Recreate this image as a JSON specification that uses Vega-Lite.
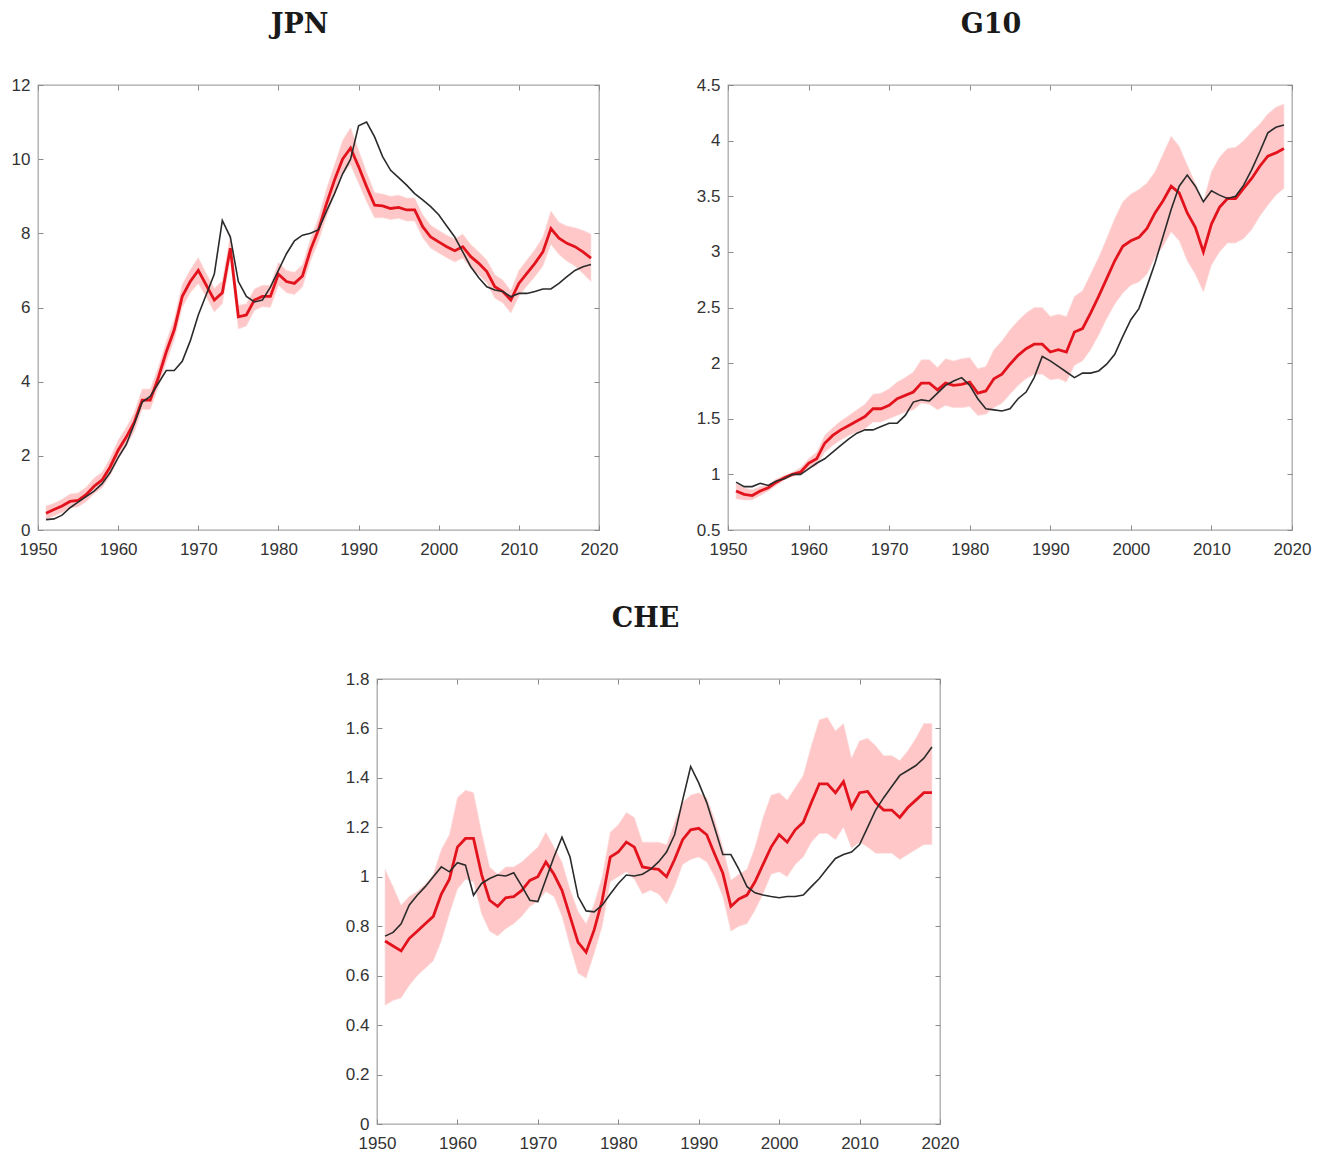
{
  "$schema": "https://vega.github.io/schema/vega-lite/v6.json",
  "background": "white",
  "padding": {"left": 10, "top": 10, "right": 0, "bottom": 0},
  "datasets": {
    "jpn": [
      {"year":1951,"est":0.45,"lo":0.28,"hi":0.65,"act":0.28},
      {"year":1952,"est":0.55,"lo":0.38,"hi":0.72,"act":0.30},
      {"year":1953,"est":0.65,"lo":0.47,"hi":0.83,"act":0.40},
      {"year":1954,"est":0.77,"lo":0.59,"hi":0.97,"act":0.60},
      {"year":1955,"est":0.80,"lo":0.62,"hi":1.00,"act":0.75},
      {"year":1956,"est":0.95,"lo":0.76,"hi":1.15,"act":0.90},
      {"year":1957,"est":1.18,"lo":0.98,"hi":1.40,"act":1.05},
      {"year":1958,"est":1.35,"lo":1.14,"hi":1.56,"act":1.25},
      {"year":1959,"est":1.70,"lo":1.46,"hi":1.94,"act":1.55},
      {"year":1960,"est":2.15,"lo":1.90,"hi":2.42,"act":1.95},
      {"year":1961,"est":2.50,"lo":2.25,"hi":2.76,"act":2.30},
      {"year":1962,"est":2.90,"lo":2.64,"hi":3.16,"act":2.85},
      {"year":1963,"est":3.50,"lo":3.25,"hi":3.80,"act":3.45},
      {"year":1964,"est":3.50,"lo":3.25,"hi":3.80,"act":3.60},
      {"year":1965,"est":4.10,"lo":3.84,"hi":4.38,"act":3.95},
      {"year":1966,"est":4.80,"lo":4.52,"hi":5.08,"act":4.30},
      {"year":1967,"est":5.40,"lo":5.12,"hi":5.70,"act":4.30},
      {"year":1968,"est":6.30,"lo":6.00,"hi":6.62,"act":4.55},
      {"year":1969,"est":6.70,"lo":6.40,"hi":7.02,"act":5.10},
      {"year":1970,"est":7.00,"lo":6.65,"hi":7.35,"act":5.80},
      {"year":1971,"est":6.60,"lo":6.28,"hi":6.92,"act":6.35},
      {"year":1972,"est":6.20,"lo":5.88,"hi":6.52,"act":6.90},
      {"year":1973,"est":6.40,"lo":6.10,"hi":6.72,"act":8.35},
      {"year":1974,"est":7.60,"lo":7.30,"hi":7.95,"act":7.90},
      {"year":1975,"est":5.75,"lo":5.42,"hi":6.06,"act":6.70},
      {"year":1976,"est":5.80,"lo":5.50,"hi":6.10,"act":6.30},
      {"year":1977,"est":6.20,"lo":5.92,"hi":6.50,"act":6.15},
      {"year":1978,"est":6.30,"lo":6.02,"hi":6.60,"act":6.20},
      {"year":1979,"est":6.30,"lo":6.00,"hi":6.60,"act":6.55},
      {"year":1980,"est":6.90,"lo":6.60,"hi":7.22,"act":7.00},
      {"year":1981,"est":6.70,"lo":6.40,"hi":7.00,"act":7.45},
      {"year":1982,"est":6.65,"lo":6.35,"hi":6.95,"act":7.80},
      {"year":1983,"est":6.85,"lo":6.55,"hi":7.15,"act":7.95},
      {"year":1984,"est":7.55,"lo":7.25,"hi":7.85,"act":8.00},
      {"year":1985,"est":8.10,"lo":7.78,"hi":8.42,"act":8.10},
      {"year":1986,"est":8.80,"lo":8.45,"hi":9.20,"act":8.60},
      {"year":1987,"est":9.44,"lo":9.05,"hi":9.85,"act":9.07},
      {"year":1988,"est":10.00,"lo":9.60,"hi":10.50,"act":9.60},
      {"year":1989,"est":10.30,"lo":9.85,"hi":10.85,"act":10.00},
      {"year":1990,"est":9.80,"lo":9.35,"hi":10.25,"act":10.90},
      {"year":1991,"est":9.26,"lo":8.85,"hi":9.65,"act":11.00},
      {"year":1992,"est":8.76,"lo":8.42,"hi":9.10,"act":10.60},
      {"year":1993,"est":8.74,"lo":8.42,"hi":9.06,"act":10.07},
      {"year":1994,"est":8.67,"lo":8.37,"hi":9.00,"act":9.70},
      {"year":1995,"est":8.70,"lo":8.40,"hi":9.03,"act":9.50},
      {"year":1996,"est":8.63,"lo":8.33,"hi":8.95,"act":9.30},
      {"year":1997,"est":8.63,"lo":8.33,"hi":8.95,"act":9.07},
      {"year":1998,"est":8.18,"lo":7.88,"hi":8.50,"act":8.90},
      {"year":1999,"est":7.90,"lo":7.60,"hi":8.22,"act":8.72},
      {"year":2000,"est":7.77,"lo":7.47,"hi":8.08,"act":8.50},
      {"year":2001,"est":7.64,"lo":7.34,"hi":7.95,"act":8.20},
      {"year":2002,"est":7.53,"lo":7.23,"hi":7.85,"act":7.90},
      {"year":2003,"est":7.64,"lo":7.33,"hi":7.98,"act":7.50},
      {"year":2004,"est":7.37,"lo":7.06,"hi":7.70,"act":7.10},
      {"year":2005,"est":7.19,"lo":6.88,"hi":7.50,"act":6.80},
      {"year":2006,"est":6.97,"lo":6.66,"hi":7.28,"act":6.56},
      {"year":2007,"est":6.56,"lo":6.25,"hi":6.88,"act":6.47},
      {"year":2008,"est":6.43,"lo":6.12,"hi":6.74,"act":6.43},
      {"year":2009,"est":6.20,"lo":5.85,"hi":6.45,"act":6.29},
      {"year":2010,"est":6.65,"lo":6.30,"hi":7.00,"act":6.38},
      {"year":2011,"est":6.92,"lo":6.58,"hi":7.28,"act":6.38},
      {"year":2012,"est":7.19,"lo":6.83,"hi":7.56,"act":6.43},
      {"year":2013,"est":7.50,"lo":7.12,"hi":7.90,"act":6.50},
      {"year":2014,"est":8.13,"lo":7.70,"hi":8.60,"act":6.50},
      {"year":2015,"est":7.87,"lo":7.43,"hi":8.30,"act":6.65},
      {"year":2016,"est":7.73,"lo":7.25,"hi":8.20,"act":6.83},
      {"year":2017,"est":7.64,"lo":7.12,"hi":8.15,"act":7.00},
      {"year":2018,"est":7.50,"lo":6.92,"hi":8.08,"act":7.10},
      {"year":2019,"est":7.33,"lo":6.70,"hi":7.98,"act":7.16}
    ],
    "g10": [
      {"year":1951,"est":0.85,"lo":0.78,"hi":0.92,"act":0.93},
      {"year":1952,"est":0.82,"lo":0.77,"hi":0.88,"act":0.89},
      {"year":1953,"est":0.81,"lo":0.77,"hi":0.86,"act":0.89},
      {"year":1954,"est":0.85,"lo":0.81,"hi":0.89,"act":0.92},
      {"year":1955,"est":0.88,"lo":0.85,"hi":0.91,"act":0.90},
      {"year":1956,"est":0.93,"lo":0.90,"hi":0.96,"act":0.94},
      {"year":1957,"est":0.97,"lo":0.95,"hi":0.99,"act":0.96},
      {"year":1958,"est":1.00,"lo":0.98,"hi":1.02,"act":1.00},
      {"year":1959,"est":1.02,"lo":1.00,"hi":1.06,"act":1.00},
      {"year":1960,"est":1.10,"lo":1.05,"hi":1.14,"act":1.05},
      {"year":1961,"est":1.14,"lo":1.08,"hi":1.20,"act":1.10},
      {"year":1962,"est":1.28,"lo":1.20,"hi":1.35,"act":1.14},
      {"year":1963,"est":1.35,"lo":1.26,"hi":1.42,"act":1.20},
      {"year":1964,"est":1.40,"lo":1.31,"hi":1.48,"act":1.26},
      {"year":1965,"est":1.44,"lo":1.35,"hi":1.53,"act":1.32},
      {"year":1966,"est":1.48,"lo":1.38,"hi":1.58,"act":1.37},
      {"year":1967,"est":1.52,"lo":1.41,"hi":1.63,"act":1.40},
      {"year":1968,"est":1.59,"lo":1.47,"hi":1.72,"act":1.40},
      {"year":1969,"est":1.59,"lo":1.47,"hi":1.73,"act":1.43},
      {"year":1970,"est":1.62,"lo":1.50,"hi":1.77,"act":1.46},
      {"year":1971,"est":1.68,"lo":1.53,"hi":1.83,"act":1.46},
      {"year":1972,"est":1.71,"lo":1.56,"hi":1.87,"act":1.53},
      {"year":1973,"est":1.74,"lo":1.58,"hi":1.92,"act":1.65},
      {"year":1974,"est":1.82,"lo":1.64,"hi":2.03,"act":1.67},
      {"year":1975,"est":1.82,"lo":1.63,"hi":2.03,"act":1.66},
      {"year":1976,"est":1.76,"lo":1.58,"hi":1.96,"act":1.73},
      {"year":1977,"est":1.82,"lo":1.62,"hi":2.04,"act":1.80},
      {"year":1978,"est":1.80,"lo":1.60,"hi":2.02,"act":1.84},
      {"year":1979,"est":1.81,"lo":1.60,"hi":2.04,"act":1.87},
      {"year":1980,"est":1.83,"lo":1.61,"hi":2.05,"act":1.80},
      {"year":1981,"est":1.73,"lo":1.53,"hi":1.95,"act":1.68},
      {"year":1982,"est":1.75,"lo":1.54,"hi":1.97,"act":1.59},
      {"year":1983,"est":1.86,"lo":1.60,"hi":2.12,"act":1.58},
      {"year":1984,"est":1.90,"lo":1.64,"hi":2.20,"act":1.57},
      {"year":1985,"est":1.99,"lo":1.72,"hi":2.30,"act":1.59},
      {"year":1986,"est":2.07,"lo":1.80,"hi":2.38,"act":1.68},
      {"year":1987,"est":2.13,"lo":1.86,"hi":2.45,"act":1.74},
      {"year":1988,"est":2.17,"lo":1.90,"hi":2.50,"act":1.87},
      {"year":1989,"est":2.17,"lo":1.90,"hi":2.50,"act":2.06},
      {"year":1990,"est":2.10,"lo":1.85,"hi":2.42,"act":2.02},
      {"year":1991,"est":2.12,"lo":1.86,"hi":2.44,"act":1.97},
      {"year":1992,"est":2.10,"lo":1.83,"hi":2.42,"act":1.92},
      {"year":1993,"est":2.28,"lo":1.98,"hi":2.60,"act":1.87},
      {"year":1994,"est":2.31,"lo":2.02,"hi":2.65,"act":1.91},
      {"year":1995,"est":2.45,"lo":2.12,"hi":2.80,"act":1.91},
      {"year":1996,"est":2.60,"lo":2.25,"hi":2.95,"act":1.93},
      {"year":1997,"est":2.76,"lo":2.40,"hi":3.12,"act":1.99},
      {"year":1998,"est":2.92,"lo":2.53,"hi":3.30,"act":2.08},
      {"year":1999,"est":3.05,"lo":2.63,"hi":3.45,"act":2.24},
      {"year":2000,"est":3.10,"lo":2.70,"hi":3.52,"act":2.39},
      {"year":2001,"est":3.13,"lo":2.73,"hi":3.56,"act":2.49},
      {"year":2002,"est":3.21,"lo":2.80,"hi":3.62,"act":2.69},
      {"year":2003,"est":3.35,"lo":2.95,"hi":3.72,"act":2.90},
      {"year":2004,"est":3.46,"lo":3.05,"hi":3.88,"act":3.14},
      {"year":2005,"est":3.59,"lo":3.18,"hi":4.04,"act":3.38},
      {"year":2006,"est":3.53,"lo":3.10,"hi":3.95,"act":3.59},
      {"year":2007,"est":3.35,"lo":2.92,"hi":3.78,"act":3.69},
      {"year":2008,"est":3.22,"lo":2.80,"hi":3.62,"act":3.59},
      {"year":2009,"est":3.00,"lo":2.64,"hi":3.45,"act":3.45},
      {"year":2010,"est":3.25,"lo":2.88,"hi":3.72,"act":3.55},
      {"year":2011,"est":3.40,"lo":3.00,"hi":3.85,"act":3.51},
      {"year":2012,"est":3.48,"lo":3.08,"hi":3.93,"act":3.48},
      {"year":2013,"est":3.48,"lo":3.08,"hi":3.94,"act":3.50},
      {"year":2014,"est":3.57,"lo":3.12,"hi":4.00,"act":3.60},
      {"year":2015,"est":3.66,"lo":3.20,"hi":4.08,"act":3.74},
      {"year":2016,"est":3.77,"lo":3.32,"hi":4.15,"act":3.90},
      {"year":2017,"est":3.86,"lo":3.42,"hi":4.24,"act":4.07},
      {"year":2018,"est":3.89,"lo":3.51,"hi":4.30,"act":4.12},
      {"year":2019,"est":3.93,"lo":3.57,"hi":4.33,"act":4.14}
    ],
    "che": [
      {"year":1951,"est":0.74,"lo":0.48,"hi":1.03,"act":0.76},
      {"year":1952,"est":0.72,"lo":0.50,"hi":0.96,"act":0.775},
      {"year":1953,"est":0.70,"lo":0.51,"hi":0.885,"act":0.81},
      {"year":1954,"est":0.75,"lo":0.56,"hi":0.92,"act":0.885},
      {"year":1955,"est":0.78,"lo":0.60,"hi":0.94,"act":0.925},
      {"year":1956,"est":0.81,"lo":0.63,"hi":0.97,"act":0.96},
      {"year":1957,"est":0.84,"lo":0.66,"hi":1.01,"act":1.00},
      {"year":1958,"est":0.93,"lo":0.74,"hi":1.11,"act":1.04},
      {"year":1959,"est":0.99,"lo":0.85,"hi":1.17,"act":1.02},
      {"year":1960,"est":1.12,"lo":0.95,"hi":1.32,"act":1.057},
      {"year":1961,"est":1.155,"lo":0.99,"hi":1.35,"act":1.047},
      {"year":1962,"est":1.155,"lo":0.98,"hi":1.34,"act":0.925},
      {"year":1963,"est":1.01,"lo":0.85,"hi":1.18,"act":0.973},
      {"year":1964,"est":0.905,"lo":0.78,"hi":1.04,"act":0.993},
      {"year":1965,"est":0.88,"lo":0.76,"hi":1.01,"act":1.007},
      {"year":1966,"est":0.915,"lo":0.79,"hi":1.04,"act":1.003},
      {"year":1967,"est":0.92,"lo":0.81,"hi":1.04,"act":1.016},
      {"year":1968,"est":0.945,"lo":0.84,"hi":1.06,"act":0.962},
      {"year":1969,"est":0.985,"lo":0.88,"hi":1.09,"act":0.905},
      {"year":1970,"est":1.00,"lo":0.90,"hi":1.12,"act":0.90},
      {"year":1971,"est":1.06,"lo":0.94,"hi":1.18,"act":0.99},
      {"year":1972,"est":1.01,"lo":0.92,"hi":1.12,"act":1.08},
      {"year":1973,"est":0.945,"lo":0.84,"hi":1.06,"act":1.16},
      {"year":1974,"est":0.84,"lo":0.72,"hi":0.95,"act":1.08},
      {"year":1975,"est":0.735,"lo":0.61,"hi":0.86,"act":0.92},
      {"year":1976,"est":0.695,"lo":0.59,"hi":0.81,"act":0.862},
      {"year":1977,"est":0.785,"lo":0.69,"hi":0.89,"act":0.858},
      {"year":1978,"est":0.905,"lo":0.80,"hi":1.00,"act":0.885},
      {"year":1979,"est":1.08,"lo":0.98,"hi":1.18,"act":0.93},
      {"year":1980,"est":1.10,"lo":1.00,"hi":1.21,"act":0.973},
      {"year":1981,"est":1.14,"lo":1.02,"hi":1.26,"act":1.007},
      {"year":1982,"est":1.12,"lo":0.99,"hi":1.24,"act":1.003},
      {"year":1983,"est":1.04,"lo":0.93,"hi":1.14,"act":1.01},
      {"year":1984,"est":1.034,"lo":0.946,"hi":1.14,"act":1.03},
      {"year":1985,"est":1.03,"lo":0.93,"hi":1.14,"act":1.06},
      {"year":1986,"est":1.00,"lo":0.89,"hi":1.13,"act":1.10},
      {"year":1987,"est":1.07,"lo":0.96,"hi":1.22,"act":1.17},
      {"year":1988,"est":1.15,"lo":1.05,"hi":1.30,"act":1.31},
      {"year":1989,"est":1.19,"lo":1.07,"hi":1.33,"act":1.446},
      {"year":1990,"est":1.196,"lo":1.08,"hi":1.34,"act":1.38},
      {"year":1991,"est":1.17,"lo":1.06,"hi":1.32,"act":1.30},
      {"year":1992,"est":1.09,"lo":1.00,"hi":1.23,"act":1.196},
      {"year":1993,"est":1.014,"lo":0.92,"hi":1.12,"act":1.09},
      {"year":1994,"est":0.88,"lo":0.78,"hi":0.986,"act":1.09},
      {"year":1995,"est":0.91,"lo":0.80,"hi":1.01,"act":1.03},
      {"year":1996,"est":0.926,"lo":0.81,"hi":1.03,"act":0.96},
      {"year":1997,"est":0.98,"lo":0.865,"hi":1.12,"act":0.935},
      {"year":1998,"est":1.05,"lo":0.93,"hi":1.24,"act":0.926},
      {"year":1999,"est":1.12,"lo":1.01,"hi":1.33,"act":0.92},
      {"year":2000,"est":1.17,"lo":1.02,"hi":1.34,"act":0.915},
      {"year":2001,"est":1.14,"lo":1.00,"hi":1.31,"act":0.92},
      {"year":2002,"est":1.19,"lo":1.05,"hi":1.36,"act":0.92},
      {"year":2003,"est":1.22,"lo":1.08,"hi":1.41,"act":0.926},
      {"year":2004,"est":1.30,"lo":1.14,"hi":1.53,"act":0.96},
      {"year":2005,"est":1.376,"lo":1.175,"hi":1.635,"act":0.993},
      {"year":2006,"est":1.376,"lo":1.175,"hi":1.645,"act":1.034},
      {"year":2007,"est":1.34,"lo":1.15,"hi":1.59,"act":1.074},
      {"year":2008,"est":1.385,"lo":1.20,"hi":1.62,"act":1.09},
      {"year":2009,"est":1.28,"lo":1.115,"hi":1.48,"act":1.10},
      {"year":2010,"est":1.34,"lo":1.14,"hi":1.55,"act":1.13},
      {"year":2011,"est":1.345,"lo":1.12,"hi":1.56,"act":1.20},
      {"year":2012,"est":1.30,"lo":1.095,"hi":1.53,"act":1.27},
      {"year":2013,"est":1.27,"lo":1.095,"hi":1.49,"act":1.32},
      {"year":2014,"est":1.27,"lo":1.095,"hi":1.49,"act":1.365},
      {"year":2015,"est":1.24,"lo":1.07,"hi":1.47,"act":1.41},
      {"year":2016,"est":1.28,"lo":1.09,"hi":1.51,"act":1.43},
      {"year":2017,"est":1.31,"lo":1.11,"hi":1.56,"act":1.45},
      {"year":2018,"est":1.34,"lo":1.13,"hi":1.62,"act":1.48},
      {"year":2019,"est":1.34,"lo":1.13,"hi":1.62,"act":1.525}
    ]
  },
  "vconcat": [
    {
      "hconcat": [
        {
          "title": {"text": "JPN", "dx": -19},
          "width": 561,
          "height": 445,
          "data": {"name": "jpn"},
          "layer": [
            {
              "mark": {"type": "area", "color": "#ff1a1a", "opacity": 0.24, "stroke": "#ee7f7f", "strokeWidth": 0.9, "strokeOpacity": 0.7},
              "encoding": {
                "x": {"field": "year", "type": "quantitative", "scale": {"domain": [1950, 2020], "nice": false, "zero": false}, "axis": {"orient": "bottom", "values": [1950, 1960, 1970, 1980, 1990, 2000, 2010, 2020], "format": "d", "title": null}},
                "y": {"field": "lo", "type": "quantitative", "scale": {"domain": [0, 12], "nice": false, "zero": false}, "axis": {"orient": "left", "values": [0, 2, 4, 6, 8, 10, 12], "format": "~g", "title": null}},
                "y2": {"field": "hi"}
              }
            },
            {
              "mark": {"type": "line", "color": "#e3131d", "strokeWidth": 2.8},
              "encoding": {
                "x": {"field": "year", "type": "quantitative", "axis": {"orient": "top", "labels": false, "values": [1950, 1960, 1970, 1980, 1990, 2000, 2010, 2020], "title": null}},
                "y": {"field": "est", "type": "quantitative", "axis": {"orient": "right", "labels": false, "values": [0, 2, 4, 6, 8, 10, 12], "title": null}}
              }
            },
            {
              "mark": {"type": "line", "color": "#2b2b2b", "strokeWidth": 1.6},
              "encoding": {
                "x": {"field": "year", "type": "quantitative", "axis": null},
                "y": {"field": "act", "type": "quantitative", "axis": null}
              }
            }
          ],
          "resolve": {"axis": {"x": "independent", "y": "independent"}}
        },
        {
          "title": {"text": "G10", "dx": -19},
          "width": 564,
          "height": 445,
          "data": {"name": "g10"},
          "layer": [
            {
              "mark": {"type": "area", "color": "#ff1a1a", "opacity": 0.24, "stroke": "#ee7f7f", "strokeWidth": 0.9, "strokeOpacity": 0.7},
              "encoding": {
                "x": {"field": "year", "type": "quantitative", "scale": {"domain": [1950, 2020], "nice": false, "zero": false}, "axis": {"orient": "bottom", "values": [1950, 1960, 1970, 1980, 1990, 2000, 2010, 2020], "format": "d", "title": null}},
                "y": {"field": "lo", "type": "quantitative", "scale": {"domain": [0.5, 4.5], "nice": false, "zero": false}, "axis": {"orient": "left", "values": [0.5, 1, 1.5, 2, 2.5, 3, 3.5, 4, 4.5], "format": "~g", "title": null}},
                "y2": {"field": "hi"}
              }
            },
            {
              "mark": {"type": "line", "color": "#e3131d", "strokeWidth": 2.8},
              "encoding": {
                "x": {"field": "year", "type": "quantitative", "axis": {"orient": "top", "labels": false, "values": [1950, 1960, 1970, 1980, 1990, 2000, 2010, 2020], "title": null}},
                "y": {"field": "est", "type": "quantitative", "axis": {"orient": "right", "labels": false, "values": [0.5, 1, 1.5, 2, 2.5, 3, 3.5, 4, 4.5], "title": null}}
              }
            },
            {
              "mark": {"type": "line", "color": "#2b2b2b", "strokeWidth": 1.6},
              "encoding": {
                "x": {"field": "year", "type": "quantitative", "axis": null},
                "y": {"field": "act", "type": "quantitative", "axis": null}
              }
            }
          ],
          "resolve": {"axis": {"x": "independent", "y": "independent"}}
        }
      ],
      "spacing": 76
    },
    {
      "hconcat": [
        {
          "width": 271,
          "height": 445,
          "view": {"stroke": null},
          "data": {"values": [{}]},
          "mark": {"type": "point", "opacity": 0},
          "encoding": {}
        },
        {
          "title": {"text": "CHE", "dx": -13},
          "width": 563,
          "height": 445,
          "data": {"name": "che"},
          "layer": [
            {
              "mark": {"type": "area", "color": "#ff1a1a", "opacity": 0.24, "stroke": "#ee7f7f", "strokeWidth": 0.9, "strokeOpacity": 0.7},
              "encoding": {
                "x": {"field": "year", "type": "quantitative", "scale": {"domain": [1950, 2020], "nice": false, "zero": false}, "axis": {"orient": "bottom", "values": [1950, 1960, 1970, 1980, 1990, 2000, 2010, 2020], "format": "d", "title": null}},
                "y": {"field": "lo", "type": "quantitative", "scale": {"domain": [0, 1.8], "nice": false, "zero": false}, "axis": {"orient": "left", "values": [0, 0.2, 0.4, 0.6, 0.8, 1, 1.2, 1.4, 1.6, 1.8], "format": "~g", "title": null}},
                "y2": {"field": "hi"}
              }
            },
            {
              "mark": {"type": "line", "color": "#e3131d", "strokeWidth": 2.8},
              "encoding": {
                "x": {"field": "year", "type": "quantitative", "axis": {"orient": "top", "labels": false, "values": [1950, 1960, 1970, 1980, 1990, 2000, 2010, 2020], "title": null}},
                "y": {"field": "est", "type": "quantitative", "axis": {"orient": "right", "labels": false, "values": [0, 0.2, 0.4, 0.6, 0.8, 1, 1.2, 1.4, 1.6, 1.8], "title": null}}
              }
            },
            {
              "mark": {"type": "line", "color": "#2b2b2b", "strokeWidth": 1.6},
              "encoding": {
                "x": {"field": "year", "type": "quantitative", "axis": null},
                "y": {"field": "act", "type": "quantitative", "axis": null}
              }
            }
          ],
          "resolve": {"axis": {"x": "independent", "y": "independent"}}
        }
      ],
      "spacing": 35
    }
  ],
  "spacing": 46,
  "config": {
    "view": {"stroke": "#a8a8a8", "strokeWidth": 1.3},
    "axis": {
      "domain": false,
      "grid": false,
      "tickSize": -5,
      "tickColor": "#8a8a8a",
      "tickWidth": 1,
      "labelFlush": false,
      "labelFont": "Liberation Sans",
      "labelFontSize": 17,
      "labelColor": "#333333",
      "labelPadding": 13
    },
    "axisBottom": {"labelPadding": 16},
    "title": {
      "font": "DejaVu Serif",
      "fontWeight": "bold",
      "fontSize": 27,
      "color": "#1a1a1a",
      "anchor": "middle",
      "baseline": "alphabetic",
      "offset": 37
    }
  }
}
